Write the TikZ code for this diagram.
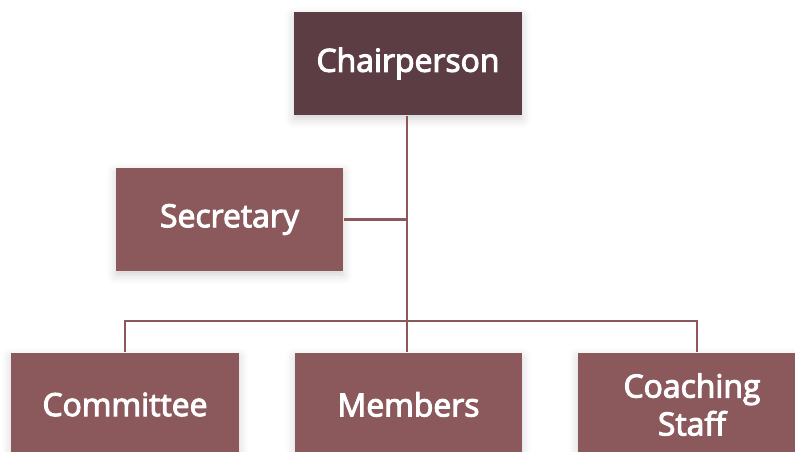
\documentclass[tikz,border=0pt]{standalone}
\usepackage{fontspec}
\newfontfamily\boxfont{Open Sans}[FakeBold=3.2]
\usepackage{tikz}
\usetikzlibrary{positioning,shadows.blur}
\definecolor{chairred}{RGB}{93,61,68}
\definecolor{rolered}{RGB}{139,89,92}

\begin{document}
\begin{tikzpicture}[x=1bp, y=-1bp, line width=2.5bp,
	role/.style={rectangle, fill=rolered, text=white, font=\boxfont\fontsize{32}{38}\selectfont,
		minimum width=228bp, minimum height=103bp, inner sep=0pt, align=center,
		blur shadow={shadow xshift=0bp, shadow yshift=-4bp, shadow blur radius=9bp, shadow opacity=18}}]
	\useasboundingbox (0,0) rectangle (795,452);
	\node[role, fill=chairred] (chair) at (408,63.5)   {Chairperson};
	\node[role, minimum width=227bp] (sec) at (229.5,219.5) {Secretary};
	\node[role] (com)   at (125,404.5)  {Committee};
	\node[role, minimum width=227bp] (mem)   at (408.5,404.5) {Members};
	\node[role] (coach) at (692,404.5) {Coaching\\Staff};
	\coordinate (hub) at (407,321);

	\draw[rolered] (chair.south -| hub) -- (hub);
	\draw[rolered] (sec.east) -- (sec.east -| hub);
	\draw[rolered] (com.north) |- (hub) -| ([xshift=5bp]coach.north);
	\draw[rolered] (hub) -- (mem.north -| hub);
\end{tikzpicture}
\end{document}
